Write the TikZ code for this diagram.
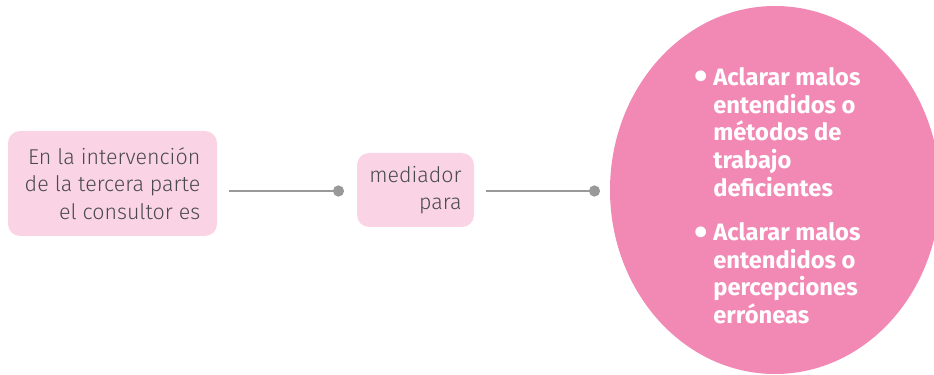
\documentclass[tikz,border=0pt]{standalone}
\usepackage{fontspec}
\setmainfont{Fira Sans}
\newfontfamily\lightfont{Fira Sans Light}
\usetikzlibrary{arrows.meta,positioning,shapes.geometric}
\definecolor{boxpink}{HTML}{FAD4E5}
\definecolor{bigpink}{HTML}{F289B5}
\definecolor{linegray}{HTML}{999999}
\definecolor{textgray}{HTML}{4A4A4A}

\begin{document}
\begin{tikzpicture}[
  x=0.02cm,y=-0.02cm,
  every node/.style={inner sep=0pt},
  conbox/.style={fill=boxpink,rounded corners=12*0.02cm,
                 font=\lightfont\fontsize{12.2}{15.6}\selectfont,
                 text=textgray,align=right},
  link/.style={-{Circle[length=0.22cm]},line width=0.055cm,draw=linegray},
  point/.style={font=\bfseries\fontsize{13.5}{15.8}\selectfont,
                text=white,align=left,anchor=base west},
  dot/.style={font=\bfseries\fontsize{22}{22}\selectfont,
              text=white,anchor=base west}
]
  \useasboundingbox (0,0) rectangle (934,375);

  \node[ellipse,fill=bigpink,minimum width=330*0.02cm,
        minimum height=368*0.02cm] (idea) at (775,190) {};

  \node[conbox,minimum width=209*0.02cm,minimum height=105*0.02cm]
    (rol) at (112.5,183.5)
    {En la intervención\\de la tercera parte\\el consultor es};
  \node[conbox,minimum width=117*0.02cm,minimum height=74*0.02cm]
    (med) at (415.5,190)
    {mediador\\para};

  \coordinate (d1) at (344,191);
  \coordinate (d2) at (600,191);
  \draw[link,shorten <=12*0.02cm] (rol.east |- d1) -- (d1);
  \draw[link,shorten <=12*0.02cm] (med.east |- d2) -- (d2);

  % objetivos del mediador
  \node[dot] (b1) at (694,90) {•};
  \node[point,anchor=north west] (p1) at (713,67)
    {Aclarar malos\\entendidos o\\métodos de\\trabajo\\deficientes};
  \node[dot] (b2) at (694,246) {•};
  \node[point,anchor=north west] (p2) at (713,222)
    {Aclarar malos\\entendidos o\\percepciones\\erróneas};
\end{tikzpicture}
\end{document}
